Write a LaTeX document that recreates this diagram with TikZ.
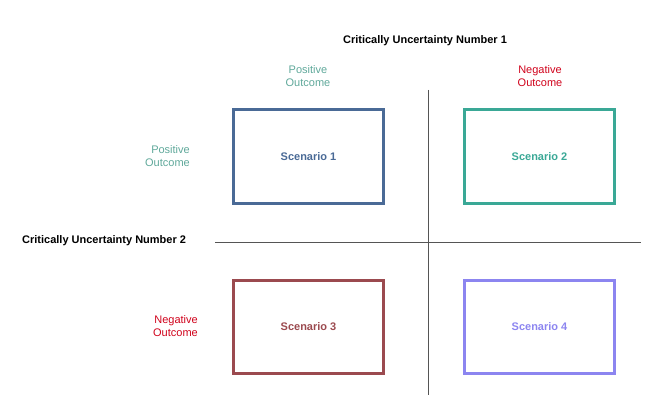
\documentclass[tikz,border=0pt]{standalone}
\usepackage{fontspec}
\setmainfont{Liberation Sans}
\definecolor{cA}{HTML}{4A6A96}
\definecolor{cB}{HTML}{3AA896}
\definecolor{cC}{HTML}{9B4A4F}
\definecolor{cD}{HTML}{8C85F0}
\definecolor{pos}{HTML}{5FA89A}
\definecolor{neg}{HTML}{D0021B}
\definecolor{axis}{HTML}{555555}
\begin{document}
\begin{tikzpicture}[x=1pt,y=-1pt,
  scen/.style={draw=#1,line width=3pt,minimum width=150pt,minimum height=93pt,inner sep=0pt,text=#1,font=\fontsize{11}{13}\selectfont\bfseries},
  lab/.style={font=\fontsize{11}{12.5}\selectfont,inner sep=0pt},
  title/.style={font=\fontsize{11}{13}\selectfont\bfseries,inner sep=0pt},
  axisline/.style={draw=axis,line width=0.8pt}]
\useasboundingbox (0,0) rectangle (660,414);
\node[scen=cA] (s1) at (308.5,156.5) {Scenario 1};
\node[scen=cB] (s2) at (539.5,156.5) {Scenario 2};
\node[scen=cC] (s3) at (308.5,327) {Scenario 3};
\node[scen=cD] (s4) at (539.5,327) {Scenario 4};
\coordinate (vt) at (428,90);
\coordinate (vb) at (428,395);
\coordinate (hl) at (215,242);
\coordinate (hr) at (641,242);
\draw[axisline] (vt) -- (vb);
\draw[axisline] (hl) -- (hr);
\node[title] (t1) at (425,41) {Critically Uncertainty Number 1};
\node[title,anchor=west] (t2) at (22,241) {Critically Uncertainty Number 2};
\node[lab,text=pos,align=center] (p1) at (308,76) {Positive\\Outcome};
\node[lab,text=neg,align=center] (n1) at (540,76) {Negative\\Outcome};
\node[lab,text=pos,align=right,anchor=east] (p2) at (190,156) {Positive\\Outcome};
\node[lab,text=neg,align=right,anchor=east] (n2) at (198,326) {Negative\\Outcome};
\end{tikzpicture}
\end{document}
